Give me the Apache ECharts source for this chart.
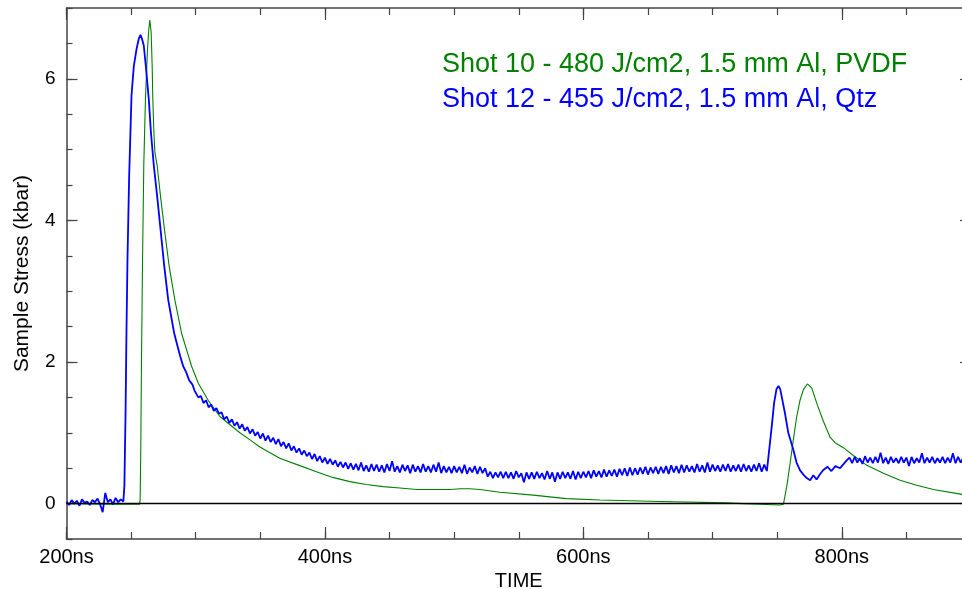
<!DOCTYPE html>
<html>
<head>
<meta charset="utf-8">
<script src="https://cdn.jsdelivr.net/npm/echarts@6/dist/echarts.min.js"></script>
<style>
html,body{margin:0;padding:0;background:#fff;overflow:hidden;width:962px;height:589px;}
#chart{width:980px;height:589px;}
</style>
</head>
<body>
<div id="chart"></div>
<script>
// ---- Tick labels ----
const xTickValues = [200, 400, 600, 800];
const yTickValues = [0, 2, 4, 6];

// ---- Shot 10 (green, PVDF): [time ns, stress kbar] ----
const greenPoints = [
  [200,0.0],[230,-0.01],[256.5,-0.01],[257,0.05],[257.5,0.8],[258,1.94],[258.8,3.36],[259.8,4.77],
  [261.1,5.71],[262.7,6.42],[263.7,6.7],[264.5,6.83],[265.5,6.66],[266.3,6.18],[266.8,5.71],
  [267.6,5.25],[268.4,4.96],[270.2,4.77],[273,4.30],[276.1,3.83],[279.4,3.36],[283.8,2.88],
  [289,2.41],[296.8,1.94],[302,1.70],[309.6,1.46],[318.7,1.23],[334.2,1.0],[342,0.90],
  [349.7,0.80],[365,0.64],[380,0.54],[393.5,0.45],[406,0.37],[419.3,0.31],[432,0.27],
  [445,0.24],[458,0.22],[471,0.20],[496.7,0.20],[505,0.21],[512,0.21],[520,0.20],
  [535.4,0.16],[561.2,0.12],[587,0.07],[612.9,0.05],[659.4,0.03],[711,0.01],[723.6,0.0],
  [736.7,-0.01],[752,-0.02],[754.8,-0.01],[757.4,0.24],[760,0.57],[762.5,0.90],[765.1,1.23],
  [767.7,1.46],[770.3,1.61],[773.4,1.69],[776.8,1.63],[780.6,1.42],[785.8,1.16],[790.9,0.94],
  [794.8,0.86],[801.2,0.79],[809,0.68],[819.4,0.54],[832.2,0.43],[845.1,0.33],[858,0.26],
  [870.9,0.20],[893,0.13],[900,0.11]
];

// ---- Shot 12 (blue, Qtz) ----
// baseline, sampled every 2 ns from 200 ns
const blueBaselineStart = 200, blueBaselineStep = 2;
const blueBaseline = [0.03,-0.02,0.05,0.00,0.04,-0.03,0.06,0.01,0.03,-0.02,0.05,0.02,0.07,-0.01,
  -0.12,0.15,0.02,0.06,-0.01,0.08,0.02,0.06];
// main pulse: [time ns, stress kbar]
const bluePulse = [
  [244,0.03],[244.8,0.25],[245.7,1.28],[246.4,2.41],[247.2,3.45],[248.5,4.63],[249.5,5.25],
  [250.3,5.76],[252.1,6.18],[254.2,6.42],[256,6.57],[257.3,6.62],[258.5,6.56],[259.8,6.47],
  [261.4,6.18],[263.7,5.71],[265.3,5.25],[267.6,4.77],[270.4,4.30],[273,3.83],[275.6,3.36],
  [278.7,2.88],[283.3,2.41],[286,2.22],[288,2.08],[290.3,1.94],[292.5,1.86],[295,1.74],
  [297.5,1.68],[299,1.60]
];
// tail, sampled every 2 ns from 300 ns
const blueTailStart = 300, blueTailStep = 2;
const blueTail = [
  1.60,1.50,1.52,1.42,1.46,1.36,1.40,1.31,1.35,1.27,
  1.29,1.19,1.23,1.14,1.19,1.10,1.15,1.06,1.12,1.03,
  1.08,0.99,1.05,0.96,1.01,0.92,0.99,0.89,0.96,0.87,
  0.93,0.84,0.91,0.81,0.87,0.78,0.85,0.75,0.81,0.72,
  0.78,0.69,0.75,0.67,0.72,0.63,0.70,0.60,0.67,0.58,
  0.65,0.56,0.63,0.55,0.61,0.52,0.59,0.51,0.58,0.49,
  0.57,0.48,0.56,0.47,0.58,0.46,0.54,0.45,0.56,0.46,
  0.55,0.45,0.54,0.44,0.56,0.46,0.60,0.45,0.53,0.44,
  0.55,0.46,0.54,0.43,0.55,0.45,0.53,0.44,0.56,0.45,
  0.53,0.44,0.55,0.45,0.58,0.43,0.53,0.44,0.52,0.43,
  0.53,0.44,0.52,0.43,0.55,0.42,0.51,0.44,0.53,0.42,
  0.52,0.43,0.50,0.38,0.45,0.36,0.44,0.37,0.45,0.36,
  0.45,0.36,0.44,0.35,0.46,0.37,0.43,0.30,0.44,0.35,
  0.44,0.35,0.45,0.36,0.43,0.34,0.46,0.35,0.44,0.31,
  0.44,0.35,0.45,0.36,0.44,0.35,0.46,0.34,0.45,0.36,
  0.45,0.37,0.46,0.36,0.47,0.38,0.46,0.37,0.48,0.38,
  0.47,0.39,0.48,0.38,0.49,0.40,0.50,0.39,0.51,0.40,
  0.50,0.41,0.51,0.42,0.52,0.41,0.51,0.43,0.52,0.42,
  0.52,0.43,0.53,0.42,0.54,0.44,0.53,0.43,0.55,0.44,
  0.54,0.45,0.53,0.44,0.56,0.45,0.54,0.44,0.58,0.45,
  0.55,0.46,0.54,0.45,0.55,0.46,0.56,0.45,0.54,0.46,
  0.55,0.45,0.56,0.46,0.54,0.45,0.55,0.46,0.57,0.45,
  0.55,0.46
];
// reflected pulse: [time ns, stress kbar]
const blueEcho = [
  [743,0.62],[745.8,1.09],[747.6,1.42],[749.5,1.62],[751,1.66],[752.3,1.62],[753.5,1.51],
  [756,1.28],[758.6,1.0],[762.5,0.76],[765,0.58],[767.7,0.47],[770.3,0.41],[772.9,0.36],
  [775.5,0.33],[778,0.40],[780.5,0.34],[783,0.41],[785.5,0.47],[789,0.52],[792,0.46],
  [795,0.53],[798.7,0.50],[801.5,0.56],[803.8,0.61]
];
// late plateau, sampled every 2 ns from 806 ns
const blueLateStart = 806, blueLateStep = 2;
const blueLate = [
  0.65,0.57,0.66,0.58,0.64,0.56,0.67,0.58,0.65,0.57,
  0.66,0.58,0.72,0.57,0.65,0.56,0.66,0.58,0.64,0.57,
  0.66,0.58,0.65,0.53,0.66,0.57,0.64,0.58,0.71,0.57,
  0.65,0.58,0.66,0.57,0.64,0.58,0.66,0.57,0.65,0.58,
  0.71,0.57,0.66,0.58,0.65,0.57,0.66,0.58
];

const bluePoints = []
  .concat(blueBaseline.map((v,i)=>[blueBaselineStart+i*blueBaselineStep, v]))
  .concat(bluePulse)
  .concat(blueTail.map((v,i)=>[blueTailStart+i*blueTailStep, v]))
  .concat(blueEcho)
  .concat(blueLate.map((v,i)=>[blueLateStart+i*blueLateStep, v]));

const greenName = 'Shot 10 - 480 J/cm2, 1.5 mm Al, PVDF';
const blueName = 'Shot 12 - 455 J/cm2, 1.5 mm Al, Qtz';

const FONT = 'Liberation Sans';
const AX = '#444';
const X_MIN = 200, X_MAX = 900, Y_MIN = -0.5, Y_MAX = 7;

function xAx(pos, major, labels){
  return {
    type:'value', position:pos, min:X_MIN, max:X_MAX,
    interval: major ? undefined : 50,
    axisLine:{show:major, onZero:false, lineStyle:{color:AX, width:1.5}},
    axisTick: major ? {show:true, inside:true, length:12, customValues:xTickValues, lineStyle:{color:AX, width:1.2}}
                    : {show:true, inside:true, length:7, lineStyle:{color:AX, width:1.2}},
    axisLabel: labels ? {show:true, customValues:xTickValues, formatter:v=>v+'ns', color:'#000',
                         fontFamily:FONT, fontSize:20, margin:8} : {show:false},
    splitLine:{show:false},
    name: labels ? 'TIME' : '', nameLocation:'middle', nameGap:22,
    nameTextStyle:{color:'#000', fontFamily:FONT, fontSize:20}
  };
}
function yAx(pos, major, labels){
  return {
    type:'value', position:pos, min:Y_MIN, max:Y_MAX,
    interval: major ? undefined : 0.5,
    axisLine:{show:major, onZero:false, lineStyle:{color:AX, width:1.5}},
    axisTick: major ? {show:true, inside:true, length:11, customValues:yTickValues, lineStyle:{color:AX, width:1.2}}
                    : {show:true, inside:true, length:6, lineStyle:{color:AX, width:1.2}},
    axisLabel: labels ? {show:true, customValues:yTickValues, color:'#000', fontFamily:FONT, fontSize:19, margin:11}
                      : {show:false},
    splitLine:{show:false},
    name: labels ? 'Sample Stress (kbar)' : '', nameLocation:'middle', nameGap:34,
    nameTextStyle:{color:'#000', fontFamily:FONT, fontSize:21}
  };
}

const chart = echarts.init(document.getElementById('chart'), null, {renderer:'canvas'});
chart.setOption({
  animation:false,
  backgroundColor:'#fff',
  grid:{left:66.5, right:9, top:8, bottom:50, containLabel:false, outerBoundsMode:'none'},
  legend:{
    orient:'vertical', left:437, top:51, padding:0, itemGap:8,
    itemWidth:0, itemHeight:0, selectedMode:false,
    textStyle:{fontFamily:FONT, fontSize:27, lineHeight:27},
    data:[
      {name:greenName, icon:'rect', textStyle:{color:'#008000'}},
      {name:blueName, icon:'rect', textStyle:{color:'#0000ff'}}
    ]
  },
  xAxis:[xAx('bottom',true,true), xAx('bottom',false,false), xAx('top',true,false), xAx('top',false,false)],
  yAxis:[yAx('left',true,true), yAx('left',false,false), yAx('right',true,false), yAx('right',false,false)],
  series:[
    {
      name:greenName, type:'line', xAxisIndex:0, yAxisIndex:0, data:greenPoints,
      showSymbol:false, symbol:'none', smooth:false,
      lineStyle:{color:'#008000', width:1.1}, itemStyle:{color:'#008000'},
      markLine:{silent:true, symbol:'none', label:{show:false},
        lineStyle:{color:'#000', width:1.3, type:'solid'}, data:[{yAxis:0}]},
      z:2
    },
    {
      name:blueName, type:'line', xAxisIndex:0, yAxisIndex:0, data:bluePoints,
      showSymbol:false, symbol:'none', smooth:false,
      lineStyle:{color:'#0000ff', width:1.8}, itemStyle:{color:'#0000ff'},
      z:3
    }
  ]
});
</script>
</body>
</html>
